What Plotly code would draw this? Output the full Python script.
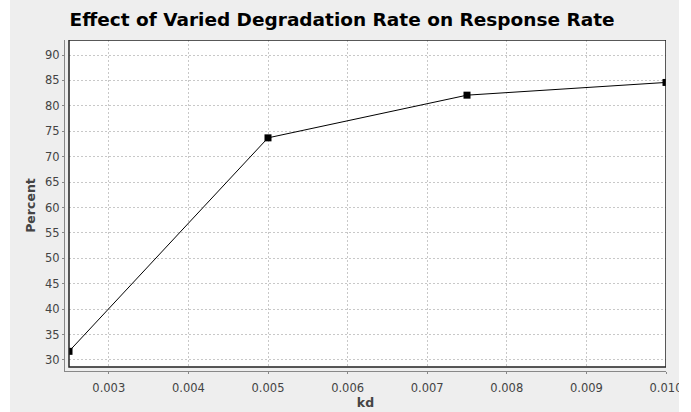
import plotly.graph_objects as go

kd = [0.0025, 0.005, 0.0075, 0.010]
percent = [31.7, 73.7, 82.1, 84.6]
x_ticks = [0.003, 0.004, 0.005, 0.006, 0.007, 0.008, 0.009, 0.010]
y_ticks = [30, 35, 40, 45, 50, 55, 60, 65, 70, 75, 80, 85, 90]

X_MIN, X_MAX = 0.0025, 0.010
Y_MIN, Y_MAX = 28.62, 92.951
# axis lines are offset 4px from the plot area (JFreeChart style)
x_px = (X_MAX - X_MIN) / 597.0
y_px = 60.0 / 305.0
XR = [X_MIN - 4 * x_px, X_MAX]
YR = [Y_MIN - 4 * y_px, Y_MAX]

BG = "#eeeeee"
GRID = "#c8c8c8"

fig = go.Figure()
fig.add_trace(go.Scatter(
    x=kd, y=percent, mode="lines+markers",
    line=dict(color="black", width=1),
    marker=dict(symbol="square", size=7, color="black"),
    showlegend=False,
))

font_family = "DejaVu Sans"
fig.update_layout(
    width=691, height=412,
    margin=dict(l=65, r=25, t=40, b=41, autoexpand=False),
    paper_bgcolor=BG, plot_bgcolor=BG,
    title=dict(text="<b>Effect of Varied Degradation Rate on Response Rate</b>",
               x=0.495, xanchor="center", y=0.952, yanchor="middle",
               font=dict(family=font_family, size=18.5, color="black")),
    font=dict(family=font_family),
    xaxis=dict(range=XR, tickvals=x_ticks, tickformat=".3f", automargin=False,
               showline=True, linecolor="#888888", linewidth=1,
               ticks="outside", ticklen=2, tickcolor="#888888",
               ticklabelstandoff=4,
               showgrid=True, gridcolor=GRID, griddash="2px,2px", gridwidth=1,
               zeroline=False,
               tickfont=dict(size=11.5, color="#444444", family=font_family),
               title=dict(text="<b>kd</b>", standoff=4,
                          font=dict(size=12.5, color="#444444", family=font_family))),
    yaxis=dict(range=YR, tickvals=y_ticks, automargin=False,
               showline=True, linecolor="#888888", linewidth=1,
               ticks="outside", ticklen=2, tickcolor="#888888",
               showgrid=True, gridcolor=GRID, griddash="2px,2px", gridwidth=1,
               zeroline=False,
               tickfont=dict(size=11.5, color="#444444", family=font_family),
               title=dict(text="<b>Percent</b>", standoff=6,
                          font=dict(size=12.5, color="#444444", family=font_family))),
)

# white data area (below grid)
fig.add_shape(type="rect", xref="x", yref="y", x0=X_MIN, x1=X_MAX, y0=Y_MIN, y1=Y_MAX,
              fillcolor="white", line=dict(width=0), layer="below")
# gray covers for the 4px gap between axes and plot area
fig.add_shape(type="rect", xref="x", yref="paper", x0=XR[0], x1=X_MIN, y0=0, y1=1,
              fillcolor=BG, line=dict(width=0), layer="above")
fig.add_shape(type="rect", xref="paper", yref="y", x0=0, x1=1, y0=YR[0], y1=Y_MIN,
              fillcolor=BG, line=dict(width=0), layer="above")
# plot outline
fig.add_shape(type="rect", xref="x", yref="y", x0=X_MIN, x1=X_MAX, y0=Y_MIN, y1=Y_MAX,
              fillcolor="rgba(0,0,0,0)", line=dict(width=1.5, color="#222222"), layer="above")
# white margins at the sides of the image
fig.add_shape(type="rect", xref="paper", yref="paper", x0=-0.12, x1=-0.0915, y0=-0.2, y1=1.2,
              fillcolor="white", line=dict(width=0), layer="above")
fig.add_shape(type="rect", xref="paper", yref="paper", x0=1.0216, x1=1.06, y0=-0.2, y1=1.2,
              fillcolor="white", line=dict(width=0), layer="above")

fig.write_html("out.html", config={"displayModeBar": False},
               post_script="document.body.style.margin='0';")
